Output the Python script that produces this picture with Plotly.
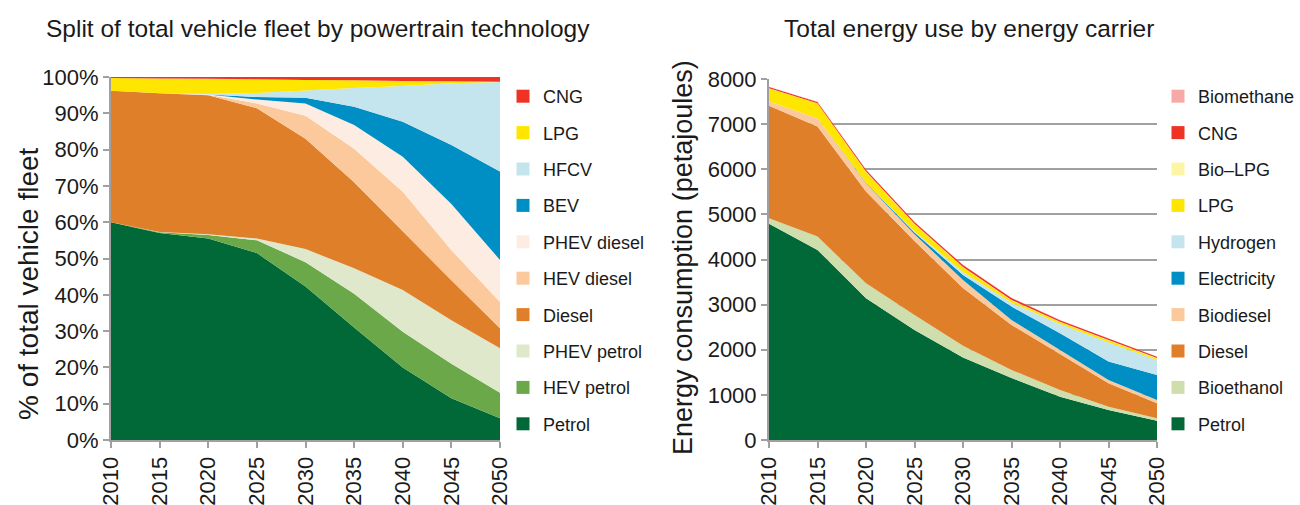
import plotly.graph_objects as go

years = [2010, 2015, 2020, 2025, 2030, 2035, 2040, 2045, 2050]

# --- left: share of vehicle fleet (%), stacked bottom -> top ---
fleet_names = ["Petrol", "HEV petrol", "PHEV petrol", "Diesel", "HEV diesel",
               "PHEV diesel", "BEV", "HFCV", "LPG", "CNG"]
fleet_petrol = [60.0, 57.0, 55.5, 51.5, 42.3, 31.0, 20.0, 11.5, 6.0]
fleet_hev_petrol = [0.0, 0.2, 1.0, 3.5, 6.7, 9.3, 9.8, 9.5, 7.0]
fleet_phev_petrol = [0.0, 0.1, 0.2, 0.5, 3.6, 7.0, 11.5, 12.0, 12.3]
fleet_diesel = [36.2, 38.2, 38.3, 35.9, 30.4, 23.7, 16.2, 11.0, 5.5]
fleet_hev_diesel = [0.0, 0.0, 0.1, 1.3, 6.3, 9.2, 10.9, 8.3, 7.2]
fleet_phev_diesel = [0.0, 0.0, 0.1, 1.1, 3.4, 6.6, 9.6, 12.7, 11.6]
fleet_bev = [0.0, 0.0, 0.0, 0.7, 1.6, 5.0, 9.7, 16.3, 24.4]
fleet_hfcv = [0.0, 0.0, 0.1, 1.1, 2.0, 5.2, 9.8, 17.0, 24.6]
fleet_lpg = [3.5, 4.1, 4.2, 3.8, 2.9, 2.1, 1.4, 0.5, 0.1]
fleet_cng = [0.3, 0.4, 0.5, 0.6, 0.8, 0.9, 1.1, 1.2, 1.3]
fleet_values = [fleet_petrol, fleet_hev_petrol, fleet_phev_petrol, fleet_diesel,
                fleet_hev_diesel, fleet_phev_diesel, fleet_bev, fleet_hfcv,
                fleet_lpg, fleet_cng]
fleet_colors = ["#006937", "#6aa84a", "#dfe8cb", "#e07f29", "#fbc99c",
                "#fdece1", "#008fc4", "#c4e4ee", "#ffe600", "#ee3325"]

# --- right: energy use (petajoules), stacked bottom -> top ---
energy_names = ["Petrol", "Bioethanol", "Diesel", "Biodiesel", "Electricity",
                "Hydrogen", "LPG", "Bio\u2013LPG", "CNG", "Biomethane"]
energy_petrol = [4790, 4213, 3141, 2440, 1830, 1375, 961, 665, 428]
energy_bioethanol = [125, 295, 333, 330, 260, 177, 148, 74, 52]
energy_diesel = [2491, 2439, 2032, 1640, 1280, 998, 798, 517, 333]
energy_biodiesel = [94, 185, 185, 150, 178, 111, 89, 74, 74]
energy_electricity = [0, 0, 9, 40, 111, 295, 370, 407, 554]
energy_hydrogen = [0, 0, 5, 20, 66, 88, 206, 421, 333]
energy_lpg = [292, 328, 236, 160, 101, 50, 41, 49, 34]
energy_bio_lpg = [5, 5, 8, 10, 10, 10, 10, 10, 10]
energy_cng = [25, 25, 40, 40, 40, 45, 30, 30, 25]
energy_biomethane = [5, 5, 5, 5, 5, 5, 5, 5, 5]
energy_values = [energy_petrol, energy_bioethanol, energy_diesel, energy_biodiesel,
                 energy_electricity, energy_hydrogen, energy_lpg, energy_bio_lpg,
                 energy_cng, energy_biomethane]
energy_colors = ["#006937", "#cfdead", "#e07f29", "#fbc99c", "#008fc4",
                 "#c4e4ee", "#ffe600", "#fdf5a6", "#ee3325", "#f7a9a8"]

FONT = "Liberation Sans, Arial, sans-serif"
AXIS = "#a0a0a0"
TXT = "#1a1a1a"
W, H = 1300, 505


def px(x):
    return x / W


def py(y):
    return 1 - y / H


fig = go.Figure()


def add_stack(names, values, colors, xa, ya, group, legend):
    for name, vals, col in zip(names, values, colors):
        fig.add_trace(go.Scatter(
            x=years, y=vals, xaxis=xa, yaxis=ya, stackgroup=group,
            mode="none", fillcolor=col, name=name, showlegend=False,
            hoverinfo="x+y+name",
        ))
    # square legend swatches, top of the stack listed first
    for i, (name, col) in enumerate(reversed(list(zip(names, colors)))):
        fig.add_trace(go.Scatter(
            x=[None], y=[None], xaxis=xa, yaxis=ya, mode="markers",
            marker=dict(symbol="square", size=13, color=col),
            name=name, legend=legend, legendgroup=f"{group}{i}",
        ))


add_stack(fleet_names, fleet_values, fleet_colors, "x", "y", "fleet", "legend")
add_stack(energy_names, energy_values, energy_colors, "x2", "y2", "energy", "legend2")

xcommon = dict(
    range=[2010, 2050], tickvals=years, ticktext=[str(y) for y in years],
    tickangle=-90, showline=True, linecolor=AXIS, linewidth=2,
    ticks="outside", ticklen=6, tickcolor=AXIS, tickwidth=2,
    showgrid=False, zeroline=False, automargin=False,
    tickfont=dict(size=22, color=TXT),
)
ycommon = dict(
    showline=True, linecolor=AXIS, linewidth=2,
    ticks="outside", ticklen=6, tickcolor=AXIS, tickwidth=2,
    zeroline=False, automargin=False, tickfont=dict(size=22, color=TXT),
)
leg = dict(
    traceorder="grouped", tracegroupgap=10, bgcolor="rgba(0,0,0,0)",
    font=dict(size=18, color=TXT, family=FONT), yanchor="top",
    itemwidth=30,
)

fig.update_layout(
    width=W, height=H,
    margin=dict(l=0, r=0, t=0, b=0),
    paper_bgcolor="white", plot_bgcolor="white",
    font=dict(family=FONT, color=TXT),
    xaxis=dict(domain=[px(111), px(500)], anchor="y", **xcommon),
    xaxis2=dict(domain=[px(769), px(1157)], anchor="y2", **xcommon),
    yaxis=dict(domain=[py(440), py(77)], anchor="x", range=[0, 100],
               dtick=10, ticksuffix="%", showgrid=False, **ycommon),
    yaxis2=dict(domain=[py(440), py(79)], anchor="x2", range=[0, 8000],
                dtick=1000, showgrid=True, gridcolor=AXIS, gridwidth=2, **ycommon),
    legend=dict(x=px(503), y=py(78), **leg),
    legend2=dict(x=px(1158), y=py(78), **leg),
    annotations=[
        dict(text="Split of total vehicle fleet by powertrain technology",
             x=px(318), y=py(28), xref="paper", yref="paper", showarrow=False,
             font=dict(size=24.5), xanchor="center", yanchor="middle"),
        dict(text="Total energy use by energy carrier",
             x=px(969), y=py(28), xref="paper", yref="paper", showarrow=False,
             font=dict(size=24.5), xanchor="center", yanchor="middle"),
        dict(text="% of total vehicle fleet", textangle=-90,
             x=px(28), y=py(284), xref="paper", yref="paper", showarrow=False,
             font=dict(size=28), xanchor="center", yanchor="middle"),
        dict(text="Energy consumption (petajoules)", textangle=-90,
             x=px(683), y=py(257), xref="paper", yref="paper", showarrow=False,
             font=dict(size=27), xanchor="center", yanchor="middle"),
    ],
)

# drop the browser's default body margin so the 1300x505 figure fills the window
fig.write_html("out.html", config={"displayModeBar": False},
               post_script="document.body.style.margin='0';"
               "document.body.style.overflow='hidden';")
